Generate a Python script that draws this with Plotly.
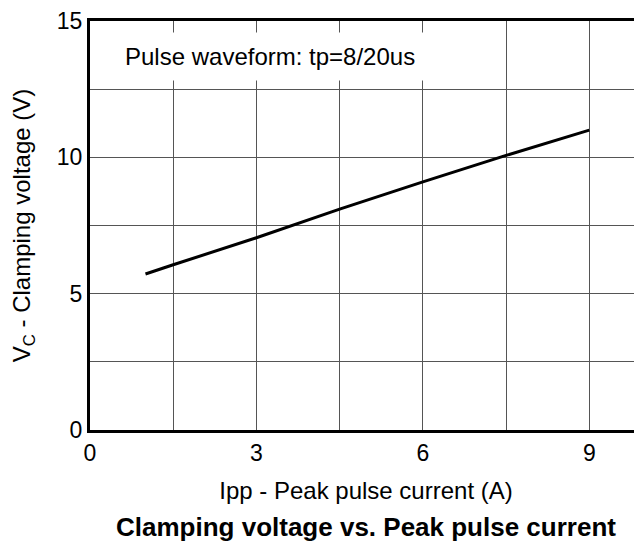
import plotly.graph_objects as go

# Data
ipp = [1.0, 1.5, 3.0, 4.5, 6.0, 7.5, 9.0]
vc = [5.72, 6.06, 7.05, 8.1, 9.1, 10.07, 11.0]

x_tickvals = [0, 3, 6, 9]
y_tickvals = [0, 5, 10, 15]

FONT = "Liberation Sans, Arial, sans-serif"

# The page body adds an 8px margin, so the figure is sized for the visible area.
W, H = 634, 537
L, T, B = 82, 11, 115
plot_h = H - T - B

fig = go.Figure()
fig.add_trace(go.Scatter(x=ipp, y=vc, mode="lines",
                         line=dict(color="black", width=3), showlegend=False))

fig.update_layout(
    width=W, height=H,
    margin=dict(l=L, r=0, t=T, b=B),
    paper_bgcolor="white", plot_bgcolor="white",
    font=dict(family=FONT, color="black"),
    xaxis=dict(
        range=[0, 9.95], tickvals=x_tickvals, ticks="", ticklabeloverflow="allow",
        tickfont=dict(size=23), showline=True, linecolor="black", linewidth=3,
        mirror=True, showgrid=True, gridcolor="#555", gridwidth=1,
        minor=dict(dtick=1.5, tick0=0, showgrid=True, gridcolor="#555", gridwidth=1),
        zeroline=False,
        title=dict(text="Ipp - Peak pulse current (A)", font=dict(size=24), standoff=18),
    ),
    yaxis=dict(
        range=[0, 15], tickvals=y_tickvals, ticks="", ticklabeloverflow="allow",
        tickfont=dict(size=23), showline=True, linecolor="black", linewidth=3,
        mirror=False, showgrid=True, gridcolor="#555", gridwidth=1,
        minor=dict(dtick=2.5, tick0=0, showgrid=True, gridcolor="#555", gridwidth=1),
        zeroline=False,
        title=dict(text="V<sub>C</sub> - Clamping voltage (V)", font=dict(size=24), standoff=24),
    ),
    annotations=[
        dict(text="Pulse waveform: tp=8/20us", xref="paper", yref="paper",
             x=(262 - L) / (W - L), y=1 - (47 - T) / plot_h,
             xanchor="center", yanchor="middle",
             showarrow=False, font=dict(size=24), bgcolor="white", borderpad=10),
        dict(text="<b>Clamping voltage vs. Peak pulse current</b>", xref="paper", yref="paper",
             x=0.5, y=1 - (519 - T) / plot_h, xanchor="center", yanchor="middle",
             showarrow=False, font=dict(size=26)),
    ],
)

fig.write_html("out.html")
